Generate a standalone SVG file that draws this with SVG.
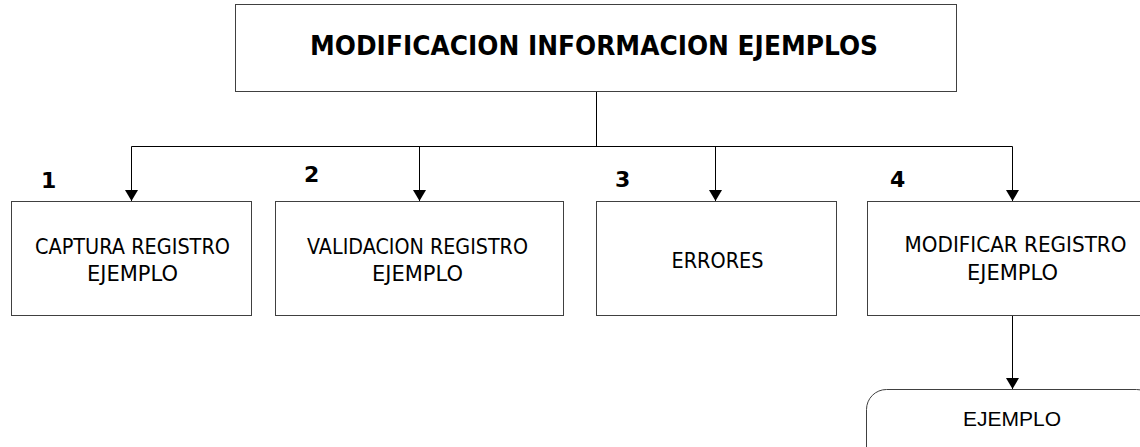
<svg xmlns="http://www.w3.org/2000/svg" width="1140" height="447" viewBox="0 0 1140 447">
<style>
.box{fill:#fff;stroke:#404040;stroke-width:1}
.t{font-family:"DejaVu Sans","Liberation Sans",sans-serif;font-size:21px;fill:#000;text-anchor:middle}
.num{font-family:"DejaVu Sans","Liberation Sans",sans-serif;font-size:22px;font-weight:bold;fill:#000}
.title{font-family:"DejaVu Sans","Liberation Sans",sans-serif;font-size:27px;font-weight:bold;fill:#000;text-anchor:middle}
.term{font-family:"Liberation Sans",Arial,sans-serif;font-size:21px;fill:#000;text-anchor:middle}
.c{fill:none;stroke:#000;stroke-width:1}
</style>
<defs>
<marker id="ah" viewBox="0 0 11 13" refX="11" refY="6.5" markerWidth="11" markerHeight="13" markerUnits="userSpaceOnUse" orient="auto">
<path d="M0,0 L11,6.5 L0,13 Z" fill="#000"/>
</marker>
</defs>
<g id="connectors">
<path class="c" d="M596.5,91.5 V146.5"/>
<path class="c" d="M131.5,146.5 H1012.5"/>
<path class="c" d="M131.5,146.5 V201" marker-end="url(#ah)"/>
<path class="c" d="M419.5,146.5 V201" marker-end="url(#ah)"/>
<path class="c" d="M715.5,146.5 V201" marker-end="url(#ah)"/>
<path class="c" d="M1012.5,146.5 V201" marker-end="url(#ah)"/>
<path class="c" d="M1012.5,316 V389" marker-end="url(#ah)"/>
</g>
<g id="title">
<rect class="box" x="235.5" y="4.5" width="721" height="87"/>
<text class="title" x="594" y="55" textLength="568" lengthAdjust="spacingAndGlyphs">MODIFICACION INFORMACION EJEMPLOS</text>
</g>
<g id="n1">
<rect class="box" x="11.5" y="201.5" width="240" height="114"/>
<text class="num" x="41" y="188">1</text>
<text class="t" x="132.5" y="254" textLength="195" lengthAdjust="spacingAndGlyphs">CAPTURA REGISTRO</text>
<text class="t" x="132.5" y="281">EJEMPLO</text>
</g>
<g id="n2">
<rect class="box" x="275.5" y="201.5" width="288" height="114"/>
<text class="num" x="304" y="182">2</text>
<text class="t" x="417.5" y="254" textLength="221" lengthAdjust="spacingAndGlyphs">VALIDACION REGISTRO</text>
<text class="t" x="417.5" y="281">EJEMPLO</text>
</g>
<g id="n3">
<rect class="box" x="596.5" y="201.5" width="240" height="114"/>
<text class="num" x="615" y="187">3</text>
<text class="t" x="717.5" y="268" textLength="92" lengthAdjust="spacingAndGlyphs">ERRORES</text>
</g>
<g id="n4">
<rect class="box" x="867.5" y="201.5" width="300" height="114"/>
<text class="num" x="890" y="187">4</text>
<text class="t" x="1015.5" y="252" textLength="222" lengthAdjust="spacingAndGlyphs">MODIFICAR REGISTRO</text>
<text class="t" x="1012.5" y="280">EJEMPLO</text>
</g>
<g id="n5">
<rect class="box" x="866.5" y="389.5" width="290" height="80" rx="20" ry="20"/>
<text class="term" x="1012" y="426">EJEMPLO</text>
</g>
</svg>
